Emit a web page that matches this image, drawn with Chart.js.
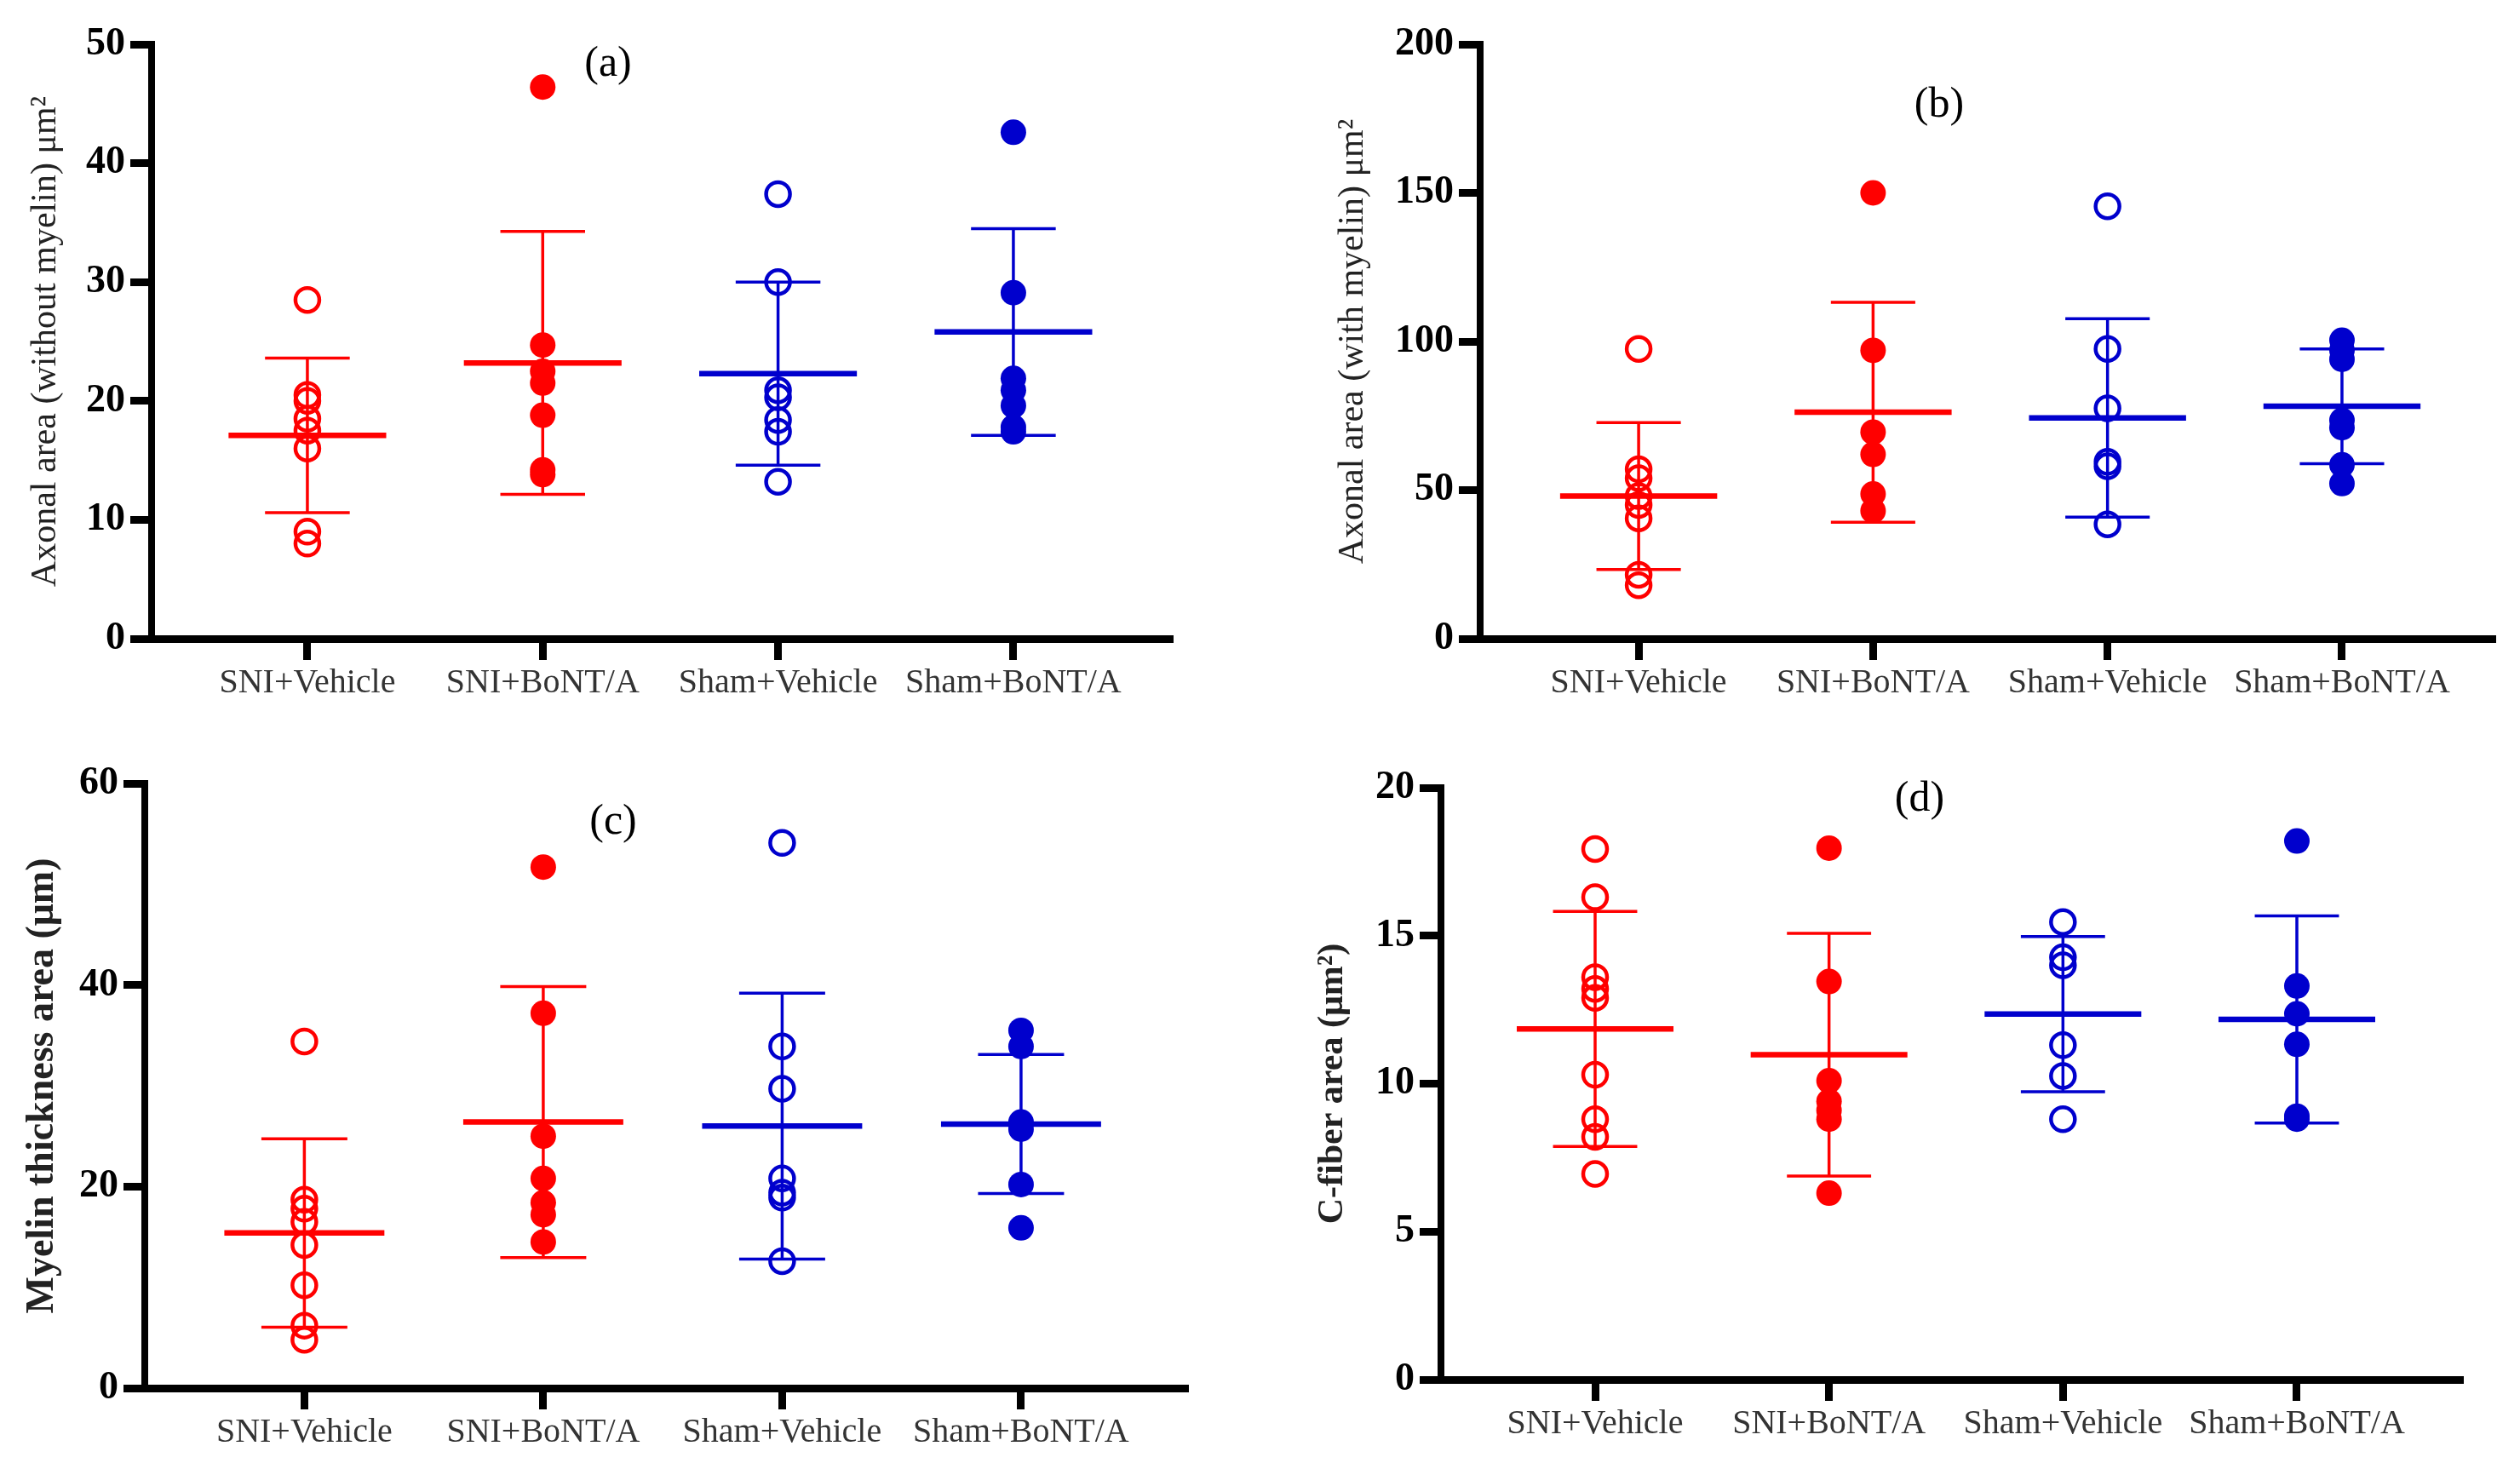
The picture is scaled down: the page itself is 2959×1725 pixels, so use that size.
<!DOCTYPE html>
<html>
<head>
<meta charset="utf-8">
<script src="https://cdn.jsdelivr.net/npm/chart.js@4.4.1/dist/chart.umd.min.js"></script>
<style>
  body { margin: 0; background: #fff; width: 2959px; height: 1725px; position: relative; overflow: hidden; }
  canvas { position: absolute; }
</style>
</head>
<body>
<canvas id="chartA" width="1440" height="862" style="left:0;top:0"></canvas>
<canvas id="chartB" width="1479" height="862" style="left:1480px;top:0"></canvas>
<canvas id="chartC" width="1440" height="863" style="left:0;top:862px"></canvas>
<canvas id="chartD" width="1479" height="863" style="left:1480px;top:862px"></canvas>
<script>
// ---------- data ----------
const groups = ['SNI+Vehicle', 'SNI+BoNT/A', 'Sham+Vehicle', 'Sham+BoNT/A'];

// (a) axonal area without myelin
const areaNoMyelin = [
    [28.5, 20.5, 20.0, 18.5, 17.5, 16.0, 9.0, 8.0],
    [46.4, 24.7, 22.5, 21.5, 18.8, 14.2, 13.8],
    [37.4, 30.0, 20.9, 20.3, 18.4, 17.4, 13.2],
    [42.6, 29.1, 21.9, 20.9, 19.6, 17.8, 17.4]
];
const areaNoMyelinMean = [17.1, 23.2, 22.3, 25.8];
const areaNoMyelinSD = [6.5, 11.05, 7.7, 8.7];

// (b) axonal area with myelin
const areaMyelin = [
    [97.5, 57, 54, 48, 45, 40.5, 21.5, 18],
    [150, 97, 69.5, 62, 48.7, 43],
    [145.5, 97.5, 77.5, 59.5, 58, 38.5],
    [100.4, 97, 94, 73.5, 71, 58.5, 52.2]
];
const areaMyelinMean = [48, 76.2, 74.3, 78.2];
const areaMyelinSD = [24.7, 37, 33.4, 19.3];

// (c) myelin thickness
const myelinThick = [
    [34.4, 18.7, 17.8, 16.5, 14.2, 10.2, 6.2, 4.8],
    [51.7, 37.2, 25.0, 20.8, 18.4, 17.2, 14.5],
    [54.1, 33.9, 29.7, 20.8, 19.4, 18.9, 12.6],
    [35.5, 33.9, 26.4, 25.7, 20.2, 15.9]
];
const myelinThickMean = [15.4, 26.4, 26.0, 26.2];
const myelinThickSD = [9.35, 13.45, 13.2, 6.9];

// (d) C-fiber area
const cFiber = [
    [17.93, 16.3, 13.6, 13.2, 12.9, 10.3, 8.8, 8.2, 6.95],
    [17.96, 13.45, 10.1, 9.4, 9.1, 8.8, 6.3],
    [15.46, 14.27, 14.0, 11.3, 10.26, 8.8],
    [18.2, 13.3, 12.36, 11.33, 8.9, 8.8]
];
const cFiberMean = [11.85, 10.98, 12.35, 12.17];
const cFiberSD = [3.97, 4.1, 2.62, 3.5];

// ---------- styling ----------
const RED = '#ff0000';
const BLUE = '#0000cd';
const groupColors = [RED, RED, BLUE, BLUE];
const groupFilled = [false, true, false, true];
const CAP_HALF = 0.18;
const MEAN_HALF = 0.335;
const SERIF = "'Liberation Serif', 'Times New Roman', serif";

Chart.defaults.font.family = SERIF;
Chart.defaults.color = '#000';

function buildDatasets(values, means, sds) {
    const points = [];
    const lines = [];
    values.forEach((vals, i) => {
        const color = groupColors[i];
        const filled = groupFilled[i];
        points.push({
            data: vals.map(v => ({ x: i, y: v })),
            showLine: false,
            pointStyle: 'circle',
            pointRadius: filled ? 15 : 14,
            pointBorderWidth: filled ? 0 : 4.5,
            pointBorderColor: color,
            pointBackgroundColor: filled ? color : 'rgba(0,0,0,0)'
        });
        const hi = means[i] + sds[i];
        const lo = means[i] - sds[i];
        lines.push({
            data: [
                { x: i - CAP_HALF, y: hi }, { x: i + CAP_HALF, y: hi }, { x: null, y: null },
                { x: i, y: hi }, { x: i, y: lo }, { x: null, y: null },
                { x: i - CAP_HALF, y: lo }, { x: i + CAP_HALF, y: lo }
            ],
            showLine: true,
            spanGaps: false,
            pointRadius: 0,
            borderColor: color,
            borderWidth: 3.5
        });
        lines.push({
            data: [{ x: i - MEAN_HALF, y: means[i] }, { x: i + MEAN_HALF, y: means[i] }],
            showLine: true,
            pointRadius: 0,
            borderColor: color,
            borderWidth: 6.5
        });
    });
    // first datasets are drawn on top
    return points.concat(lines);
}

// draws the "(a)" style panel letter
const panelLetter = {
    id: 'panelLetter',
    afterDraw(chart, args, opts) {
        const ctx = chart.ctx;
        ctx.save();
        ctx.font = '50px ' + SERIF;
        ctx.fillStyle = '#000';
        ctx.textAlign = 'center';
        ctx.textBaseline = 'middle';
        ctx.fillText(opts.text, opts.x, opts.y);
        ctx.restore();
    }
};

function makePanel(id, p) {
    const ctx = document.getElementById(id).getContext('2d');
    return new Chart(ctx, {
        type: 'scatter',
        data: { datasets: buildDatasets(p.values, p.means, p.sds) },
        plugins: [panelLetter],
        options: {
            responsive: false,
            devicePixelRatio: 1,
            animation: false,
            layout: { padding: { top: p.top, right: p.right, bottom: 0, left: 0 } },
            plugins: {
                legend: { display: false },
                tooltip: { enabled: false },
                panelLetter: { text: p.letter, x: p.letterX, y: p.letterY }
            },
            scales: {
                x: {
                    type: 'linear',
                    min: p.xMin,
                    max: p.xMax,
                    afterBuildTicks: (scale) => { scale.ticks = groups.map((g, i) => ({ value: i })); },
                    afterFit: (scale) => { scale.height = p.xHeight; },
                    ticks: {
                        callback: (v) => groups[v],
                        color: '#333',
                        font: { size: 40 },
                        padding: 3,
                        maxRotation: 0,
                        autoSkip: false
                    },
                    grid: { drawOnChartArea: false, drawTicks: true, tickLength: 25, tickWidth: 9, tickColor: '#000' },
                    border: { display: true, width: 9, color: '#000' }
                },
                y: {
                    min: p.yMin,
                    max: p.yMax,
                    afterFit: (scale) => { scale.width = p.yWidth; },
                    ticks: {
                        stepSize: p.yStep,
                        color: '#000',
                        font: { size: 46, weight: 'bold' },
                        padding: 6
                    },
                    grid: { drawOnChartArea: false, drawTicks: true, tickLength: 25, tickWidth: 9, tickColor: '#000' },
                    border: { display: true, width: 8, color: '#000' },
                    title: {
                        display: true,
                        text: p.yTitle,
                        color: '#222',
                        font: { size: p.titleSize, weight: p.titleBold ? 'bold' : 'normal' },
                        padding: { top: p.titlePad, bottom: 0 }
                    }
                }
            }
        }
    });
}

makePanel('chartA', {
    values: areaNoMyelin, means: areaNoMyelinMean, sds: areaNoMyelinSD,
    yMin: 0, yMax: 50, yStep: 10, xMin: -0.662, xMax: 3.677,
    top: 52, right: 63, yWidth: 178, xHeight: 112,
    yTitle: 'Axonal area (without myelin) μm²', titleSize: 42, titleBold: false, titlePad: 29,
    letter: '(a)', letterX: 714, letterY: 76
});

makePanel('chartB', {
    values: areaMyelin, means: areaMyelinMean, sds: areaMyelinSD,
    yMin: 0, yMax: 200, yStep: 50, xMin: -0.676, xMax: 3.654,
    top: 52, right: 29, yWidth: 258, xHeight: 112,
    yTitle: 'Axonal area (with myelin) μm²', titleSize: 42, titleBold: false, titlePad: 84,
    letter: '(b)', letterX: 797, letterY: 124
});

makePanel('chartC', {
    values: myelinThick, means: myelinThickMean, sds: myelinThickSD,
    yMin: 0, yMax: 60, yStep: 20, xMin: -0.668, xMax: 3.699,
    top: 58, right: 45, yWidth: 170, xHeight: 95,
    yTitle: 'Myelin thickness area (μm)', titleSize: 46, titleBold: true, titlePad: 23,
    letter: '(c)', letterX: 720, letterY: 104
});

makePanel('chartD', {
    values: cFiber, means: cFiberMean, sds: cFiberSD,
    yMin: 0, yMax: 20, yStep: 5, xMin: -0.659, xMax: 3.71,
    top: 63, right: 67, yWidth: 212, xHeight: 105,
    yTitle: 'C-fiber area (μm²)', titleSize: 42, titleBold: true, titlePad: 60,
    letter: '(d)', letterX: 774, letterY: 77
});
</script>
</body>
</html>
